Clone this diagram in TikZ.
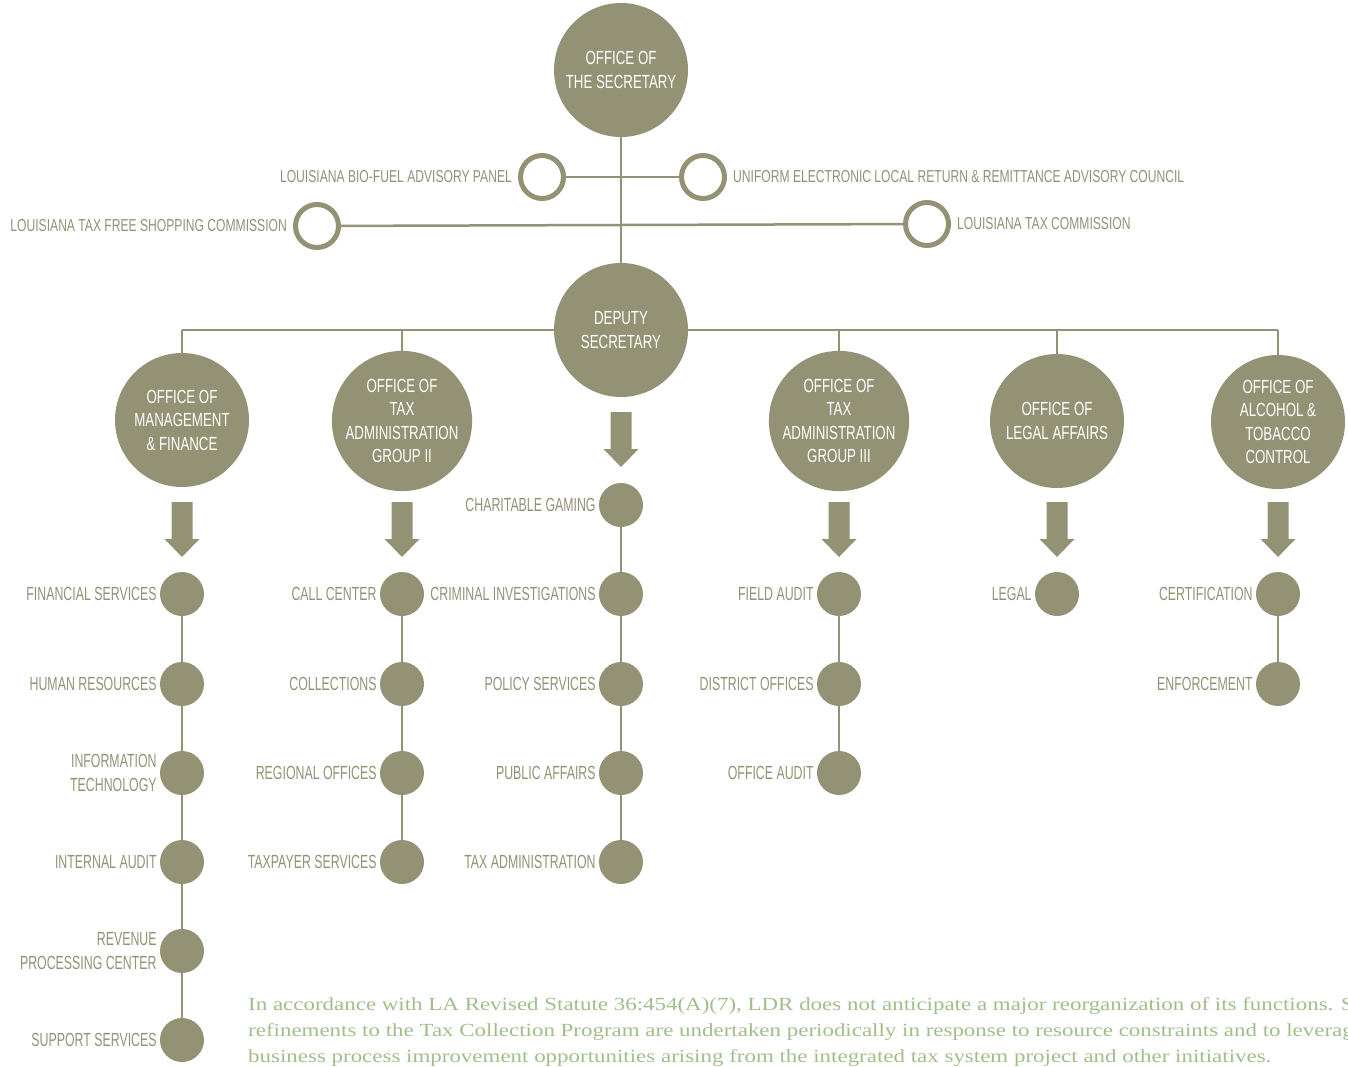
\documentclass[tikz,border=0pt]{standalone}
\usepackage{fontspec}
\usepackage{tikz}
\usetikzlibrary{positioning}
\newfontfamily\chartFont[FakeStretch=0.7]{Liberation Sans}
\newfontfamily\sectionFont[FakeStretch=0.65]{Liberation Sans}
\newfontfamily\noteFont[FakeStretch=1.24]{Liberation Serif}
\definecolor{unitColor}{RGB}{147,146,117}
\definecolor{noteColor}{RGB}{160,190,138}
\tikzstyle{chart} = [x=1pt, y=-1pt]
\tikzstyle{unitStyle} = [circle, fill=unitColor, minimum size=134pt, inner sep=0pt, text=white, align=center, font=\chartFont\fontsize{19}{23.5}\selectfont]
\tikzstyle{boardStyle} = [circle, draw=unitColor, line width=5pt, minimum size=43pt, inner sep=0pt]
\tikzstyle{dotStyle} = [circle, fill=unitColor, minimum size=44pt, inner sep=0pt]
\tikzstyle{lineStyle} = [draw=unitColor, line width=2.5pt]
\tikzstyle{labelText} = [text=unitColor, inner sep=0pt, align=right, font=\sectionFont\fontsize{19}{24}\selectfont]
\tikzstyle{boardText} = [text=unitColor, inner sep=0pt, font=\chartFont\fontsize{17.3}{20}\selectfont]
\tikzstyle{noteText} = [text=noteColor, inner sep=0pt, anchor=base west, font=\noteFont\fontsize{18.5}{25.5}\selectfont]
\tikzstyle{arrowStyle} = [fill=unitColor]
\newcommand{\unit}[4]{\node [unitStyle] (#1) at (#2, #3) {#4};}
\newcommand{\subUnit}[4]{\node [dotStyle] (#1) at (#2, #3) {}; \node [labelText, left=3pt of #1] (#1Label) {#4};}
\newcommand{\blockArrow}[2]{\fill [arrowStyle] (#1 - 10.5, #2) -- (#1 + 10.5, #2) -- (#1 + 10.5, #2 + 37) -- (#1 + 17.5, #2 + 37) -- (#1, #2 + 55) -- (#1 - 17.5, #2 + 37) -- (#1 - 10.5, #2 + 37) -- cycle;}
\newcommand{\busDrop}[1]{\draw [lineStyle] (#1.north) -- (#1.north |- dep.west);}

\begin{document}
\begin{tikzpicture}[chart]
\useasboundingbox (0,0) rectangle (1348,1067);
\clip (0,0) rectangle (1348,1067);
% top level
\unit{sec}{621}{70}{OFFICE OF\\THE SECRETARY}
\unit{dep}{621}{330}{DEPUTY\\SECRETARY}
\node [boardStyle] (bioFuel) at (542,177) {};
\node [boardStyle] (uniform) at (703,177) {};
\node [boardStyle] (taxFree) at (317,226) {};
\node [boardStyle] (taxComm) at (927,224) {};
\node [boardText, left=6pt of bioFuel] (bioFuelLabel) {LOUISIANA BIO-FUEL ADVISORY PANEL};
\node [boardText, right=6pt of uniform] (uniformLabel) {UNIFORM ELECTRONIC LOCAL RETURN \& REMITTANCE ADVISORY COUNCIL};
\node [boardText, left=6pt of taxFree] (taxFreeLabel) {LOUISIANA TAX FREE SHOPPING COMMISSION};
\node [boardText, right=6pt of taxComm] (taxCommLabel) {LOUISIANA TAX COMMISSION};
\draw [lineStyle] (sec) -- (dep);
\draw [lineStyle] (bioFuel) -- (uniform);
\draw [lineStyle] (taxFree) -- (taxComm);
% offices
\unit{mgmt}{182}{420}{OFFICE OF\\MANAGEMENT\\\& FINANCE}
\unit{groupTwo}{402}{421}{OFFICE OF\\TAX\\ADMINISTRATION\\GROUP II}
\unit{groupThree}{839}{421}{OFFICE OF\\TAX\\ADMINISTRATION\\GROUP III}
\unit{legal}{1057}{421}{OFFICE OF\\LEGAL AFFAIRS}
\unit{alcohol}{1278}{422}{OFFICE OF\\ALCOHOL \&\\TOBACCO\\CONTROL}
\draw [lineStyle] (dep.west) -- (mgmt.north |- dep.west);
\draw [lineStyle] (dep.east) -- (alcohol.north |- dep.east);
\busDrop{mgmt}\busDrop{groupTwo}\busDrop{groupThree}\busDrop{legal}\busDrop{alcohol}
\blockArrow{621}{412}\blockArrow{182}{502}\blockArrow{402}{502}\blockArrow{839}{502}\blockArrow{1057}{502}\blockArrow{1278}{502}
% sections
\subUnit{fs}{182}{594}{FINANCIAL SERVICES}\subUnit{hr}{182}{684}{HUMAN RESOURCES}\subUnit{it}{182}{773}{INFORMATION\\TECHNOLOGY}
\subUnit{ia}{182}{862}{INTERNAL AUDIT}\subUnit{rpc}{182}{951}{REVENUE\\PROCESSING CENTER}\subUnit{ss}{182}{1040}{SUPPORT SERVICES}
\subUnit{cc}{402}{594}{CALL CENTER}\subUnit{coll}{402}{684}{COLLECTIONS}\subUnit{ro}{402}{773}{REGIONAL OFFICES}\subUnit{tps}{402}{862}{TAXPAYER SERVICES}
\subUnit{cg}{621}{505}{CHARITABLE GAMING}\subUnit{ci}{621}{594}{CRIMINAL INVESTIGATIONS}\subUnit{ps}{621}{684}{POLICY SERVICES}
\subUnit{pa}{621}{773}{PUBLIC AFFAIRS}\subUnit{ta}{621}{862}{TAX ADMINISTRATION}
\subUnit{fa}{839}{594}{FIELD AUDIT}\subUnit{do}{839}{684}{DISTRICT OFFICES}\subUnit{oa}{839}{773}{OFFICE AUDIT}
\subUnit{lg}{1057}{594}{LEGAL}
\subUnit{cert}{1278}{594}{CERTIFICATION}\subUnit{enf}{1278}{684}{ENFORCEMENT}
\draw [lineStyle] (fs) -- (hr) -- (it) -- (ia) -- (rpc) -- (ss);
\draw [lineStyle] (cc) -- (coll) -- (ro) -- (tps);
\draw [lineStyle] (cg) -- (ci) -- (ps) -- (pa) -- (ta);
\draw [lineStyle] (fa) -- (do) -- (oa);
\draw [lineStyle] (cert) -- (enf);
% note
\node [noteText] (noteA) at (248,1010) {In accordance with LA Revised Statute 36:454(A)(7), LDR does not anticipate a major reorganization of its functions. Stru};
\node [noteText] (noteB) at (248,1036) {refinements to the Tax Collection Program are undertaken periodically in response to resource constraints and to leverag};
\node [noteText] (noteC) at (248,1062) {business process improvement opportunities arising from the integrated tax system project and other initiatives.};
\end{tikzpicture}
\end{document}
